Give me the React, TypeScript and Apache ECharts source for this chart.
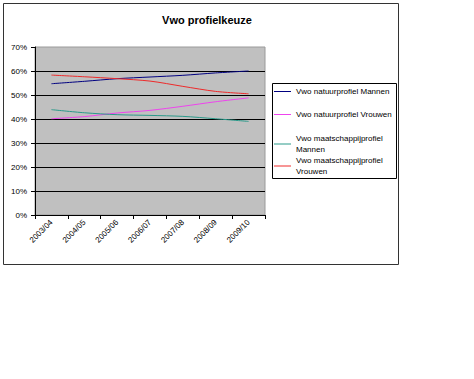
import React, { useEffect, useRef } from "react";
import * as echarts from "echarts";

const categories = ["2003/04", "2004/05", "2005/06", "2006/07", "2007/08", "2008/09", "2009/10"];
const natuurMannen = [54.7, 55.7, 56.8, 57.5, 58.2, 59.2, 60.0];
const natuurVrouwen = [40.1, 41.0, 42.5, 43.6, 45.3, 47.2, 48.8];
const maatschappijMannen = [43.9, 42.6, 41.8, 41.5, 41.1, 40.1, 39.0];
const maatschappijVrouwen = [58.3, 57.6, 56.8, 55.8, 53.6, 51.5, 50.5];
const seriesNames = [
  "Vwo natuurprofiel Mannen",
  "Vwo natuurprofiel Vrouwen",
  "Vwo maatschappijprofiel Mannen",
  "Vwo maatschappijprofiel Vrouwen",
];
const legendLabels = [
  "Vwo natuurprofiel Mannen",
  "Vwo natuurprofiel Vrouwen",
  "Vwo maatschappijprofiel\nMannen",
  "Vwo maatschappijprofiel\nVrouwen",
];
const colors = ["#000080", "#ee44ee", "#2a9a8a", "#ee2a2a"];
const values = [natuurMannen, natuurVrouwen, maatschappijMannen, maatschappijVrouwen];

export default function App() {
  const ref = useRef<HTMLDivElement>(null);
  useEffect(() => {
    const chart = echarts.init(ref.current!, null, { renderer: "svg" });
    const font = "Arial, 'Liberation Sans', sans-serif";
    const legendTops = [86, 109, 133, 155];
    chart.setOption({
      animation: false,
      backgroundColor: "#ffffff",
      title: {
        text: "Vwo profielkeuze",
        left: 202,
        top: 9,
        textAlign: "center",
        textStyle: { fontSize: 11, fontWeight: "bold", color: "#000", fontFamily: font },
      },
      grid: {
        left: 35,
        top: 47,
        width: 230,
        height: 168,
        show: true,
        backgroundColor: "#c0c0c0",
        borderColor: "#9a9a9a",
        borderWidth: 1,
      },
      legend: seriesNames.map((n, i) => ({
        data: [n],
        orient: "vertical",
        left: 274,
        top: legendTops[i],
        itemWidth: 17,
        itemHeight: 1,
        icon: "rect",
        itemGap: 4,
        padding: 0,
        selectedMode: false,
        formatter: () => legendLabels[i],
        textStyle: { fontSize: 8, color: "#000", fontFamily: font, lineHeight: 11 },
      })),
      xAxis: {
        type: "category",
        data: categories,
        boundaryGap: true,
        axisLine: { lineStyle: { color: "#000", width: 1 } },
        axisTick: { show: true, length: 4, lineStyle: { color: "#000" } },
        axisLabel: { rotate: 45, fontSize: 8, color: "#000", fontFamily: font, margin: 6, interval: 0 },
        splitLine: { show: false },
      },
      yAxis: {
        type: "value",
        min: 0,
        max: 70,
        interval: 10,
        axisLine: { show: true, lineStyle: { color: "#000", width: 1 } },
        axisTick: { show: true, length: 4, lineStyle: { color: "#000" } },
        axisLabel: { formatter: "{value}%", fontSize: 8, color: "#000", fontFamily: font, margin: 8 },
        splitLine: { show: true, showMaxLine: false, showMinLine: false, lineStyle: { color: "#000", width: 1 } },
      },
      series: seriesNames.map((n, i) => ({
        name: n,
        type: "line",
        data: values[i],
        smooth: 0.3,
        symbol: "none",
        lineStyle: { color: colors[i], width: 1 },
        itemStyle: { color: colors[i] },
      })),
      graphic: [
        {
          type: "rect",
          shape: { x: 3.5, y: 3.5, width: 395, height: 261 },
          style: { fill: "none", stroke: "#333", lineWidth: 1 },
          silent: true,
        },
        {
          type: "rect",
          shape: { x: 272.5, y: 83.5, width: 124, height: 95 },
          style: { fill: "none", stroke: "#000", lineWidth: 1 },
          silent: true,
        },
      ],
    });
    return () => chart.dispose();
  }, []);
  return (
    <div
      ref={ref}
      style={{ position: "fixed", left: 0, top: 0, width: 474, height: 379, background: "#fff" }}
    />
  );
}
